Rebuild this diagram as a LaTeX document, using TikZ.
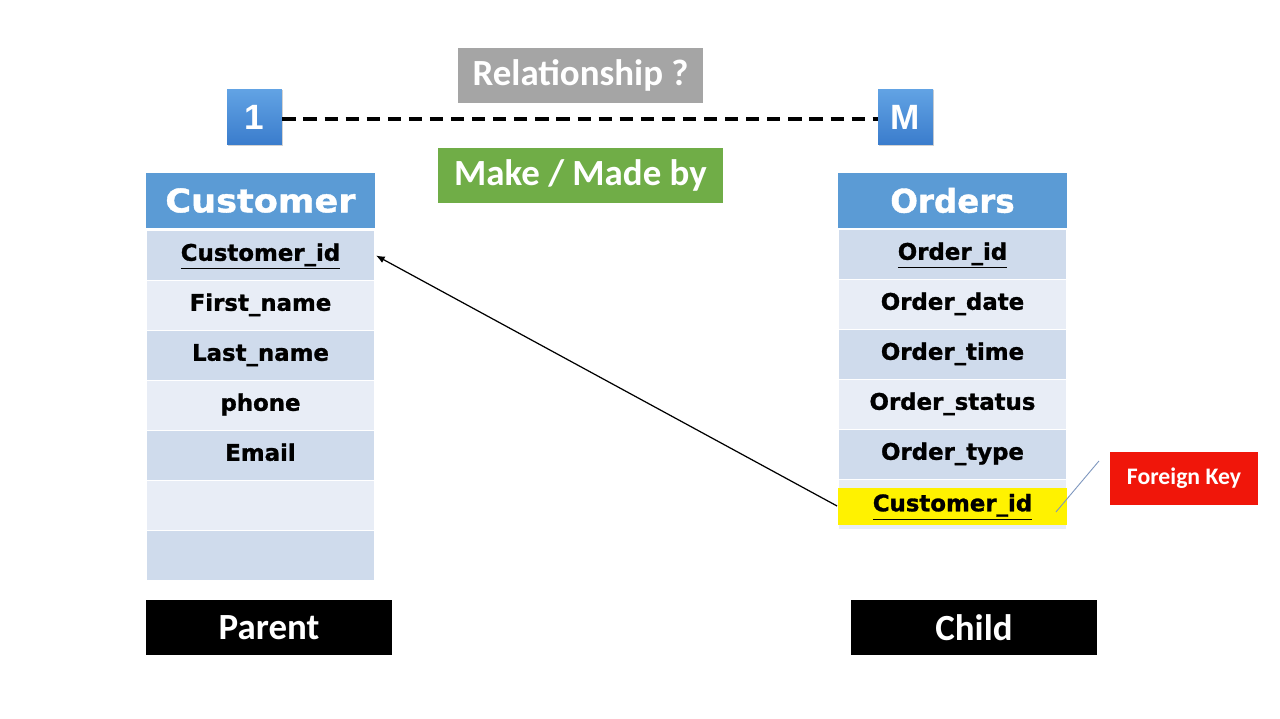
\documentclass[tikz,border=0pt]{standalone}
\usepackage{fontspec}
\setmainfont{Carlito}
\newfontfamily\tablefont[BoldFeatures={FakeBold=1.2}]{DejaVu Sans}
\newfontfamily\arialfont{Liberation Sans}
\usepackage{tikz}
\usetikzlibrary{arrows.meta,shadows}

\definecolor{hdrblue}{RGB}{91,155,213}
\definecolor{rowdark}{RGB}{207,219,236}
\definecolor{rowlight}{RGB}{232,237,246}
\definecolor{relgray}{RGB}{165,165,165}
\definecolor{makegreen}{RGB}{112,173,71}
\definecolor{fkred}{RGB}{240,22,10}
\definecolor{cardtop}{RGB}{98,163,228}
\definecolor{cardbot}{RGB}{58,124,204}
\definecolor{fkline}{RGB}{125,150,190}

\tikzset{
  title/.style={fill=#1, text=white, font=\bfseries\fontsize{21}{25}\selectfont, minimum height=1.1cm, inner sep=0pt},
  card/.style={top color=cardtop, bottom color=cardbot, text=white, font=\arialfont\bfseries\fontsize{20}{24}\selectfont, minimum width=1.1cm, minimum height=1.12cm, drop shadow={opacity=0.35,shadow xshift=0.6pt,shadow yshift=-0.8pt}},
  header/.style={fill=hdrblue, text=white, font=\tablefont\bfseries\fontsize{18.5}{22}\selectfont, minimum width=4.58cm, minimum height=1.1cm},
  field/.style={fill=#1, draw=white, line width=1.1pt, font=\tablefont\bfseries\fontsize{13}{16}\selectfont, text height=9.5pt, text depth=3.5pt, minimum width=4.58cm, minimum height=1cm},
  tag/.style={fill=black, text=white, font=\bfseries\fontsize{21}{25}\selectfont, minimum width=4.92cm, minimum height=1.1cm},
}

\begin{document}
\begin{tikzpicture}[x=0.02cm, y=-0.02cm]
    \useasboundingbox[fill=white] (0,0) rectangle (1280,719);

    % Relationship
    \node[title=relgray, minimum width=4.9cm] (rel) at (580.5,75.5) {Relationship ?};
    \node[title=makegreen, minimum width=5.7cm] (make) at (580.5,175.5) {Make / Made by};
    \node[card] (one) at (254.5,117) {1};
    \node[card] (many) at (905.5,117) {M};
    \draw[line width=2.2pt, dash pattern=on 7.5pt off 4.5pt] ([yshift=-1pt]one.east) -- ([yshift=-1pt]many.west);

    % Customer table
    \node[header] (cust) at (260.5,200.5) {\scalebox{1.08}[1]{Customer}};
    \node[field=rowdark] (cid) at (260.5,255.5) {\underline{Customer\_id}};
    \node[field=rowlight] (fname) at (260.5,305.5) {First\_name};
    \node[field=rowdark] (lname) at (260.5,355.5) {Last\_name};
    \node[field=rowlight] (phone) at (260.5,405.5) {phone};
    \node[field=rowdark] (email) at (260.5,455.5) {Email};
    \node[field=rowlight] (cempty1) at (260.5,505.5) {};
    \node[field=rowdark] (cempty2) at (260.5,555.5) {};

    % Orders table
    \node[header] (ord) at (952.5,200.5) {Orders};
    \node[field=rowdark] (oid) at (952.5,254.5) {\underline{Order\_id}};
    \node[field=rowlight] (odate) at (952.5,304.5) {Order\_date};
    \node[field=rowdark] (otime) at (952.5,354.5) {Order\_time};
    \node[field=rowlight] (ostatus) at (952.5,404.5) {Order\_status};
    \node[field=rowdark] (otype) at (952.5,454.5) {Order\_type};
    \node[field=rowlight] (oempty) at (952.5,504.5) {};
    \node[field=yellow, draw=none, minimum height=0.74cm] (fk) at (952.5,506) {\underline{Customer\_id}};

    % Foreign key
    \draw[-{Latex[length=5pt,width=4pt]}, line width=0.7pt] (fk.west) -- (cid.east);
    \node[fill=fkred, text=white, font=\bfseries\fontsize{13.5}{16}\selectfont, minimum width=2.96cm, minimum height=1.06cm] (fkey) at (1184,478.5) {Foreign Key};
    \draw[fkline, line width=0.5pt] (fk.east) ++(-12,6) -- ++(43,-51) coordinate (fkend);

    % Parent / child
    \node[tag] (parent) at (269,627.5) {Parent};
    \node[tag] (child) at (974,627.5) {Child};
\end{tikzpicture}
\end{document}
